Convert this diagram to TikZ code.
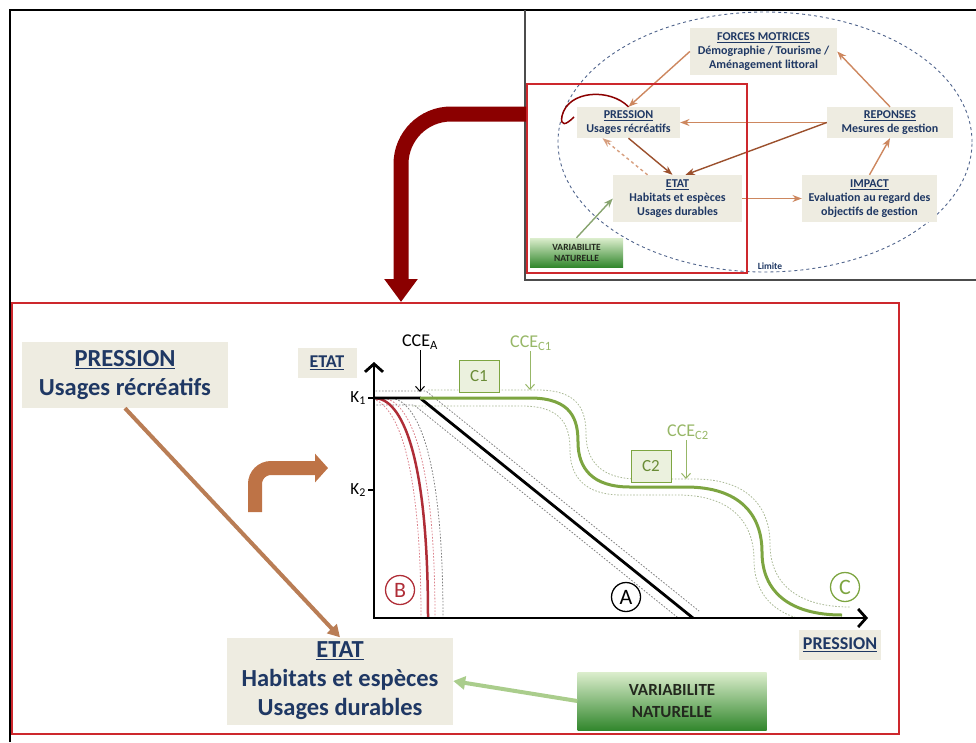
\documentclass[tikz,border=0pt]{standalone}
\usepackage{fontspec}
\setmainfont{Carlito}
\usetikzlibrary{arrows.meta}

\definecolor{navy}{RGB}{31,56,100}
\definecolor{boxfill}{RGB}{238,236,225}
\definecolor{framered}{RGB}{205,40,45}
\definecolor{arrowred}{RGB}{139,0,0}
\definecolor{bred}{RGB}{175,45,55}
\definecolor{bpink}{RGB}{220,130,140}
\definecolor{cgreen}{RGB}{125,165,65}
\definecolor{cfill}{RGB}{235,241,222}
\definecolor{cenv}{RGB}{170,185,150}
\definecolor{iorange}{RGB}{205,135,95}
\definecolor{ibrown}{RGB}{155,80,45}
\definecolor{vartop}{RGB}{220,238,205}
\definecolor{varbot}{RGB}{50,135,45}
\definecolor{vartext}{RGB}{35,40,30}
\definecolor{ellblue}{RGB}{80,100,140}
\definecolor{presarr}{RGB}{185,125,85}
\definecolor{vararr}{RGB}{170,205,140}
\definecolor{bentcol}{RGB}{190,115,70}

\begin{document}
\begin{tikzpicture}[
    x=1pt, y=-1pt,
    >=Stealth,
    lbl/.style={fill=boxfill, text=navy, align=center, inner sep=0pt},
    big/.style={lbl, font=\fontsize{24.5}{29}\selectfont\bfseries},
    axlbl/.style={lbl, font=\fontsize{18}{20}\selectfont\bfseries, minimum height=30pt},
    ibox/.style={lbl, font=\fontsize{12}{14}\selectfont\bfseries},
    varbox/.style={top color=vartop, bottom color=varbot, text=vartext, align=center, inner sep=0pt},
    iarr/.style={->, line width=1.4pt, draw=iorange},
    letter/.style={circle, draw, line width=1.3pt, minimum size=29pt, inner sep=0pt, font=\fontsize{22}{22}\selectfont},
    cbox/.style={draw=cgreen, fill=cfill, text=cgreen!85!black, line width=1pt, minimum width=40pt, minimum height=32pt, font=\fontsize{17}{17}\selectfont},
    cce/.style={font=\fontsize{18}{18}\selectfont, inner sep=1pt},
    pin/.style={-{Straight Barb[length=5pt,width=9pt]}, line width=1pt},
    axis/.style={line width=2.8pt, {Straight Barb[length=8pt,width=18pt]}-{Straight Barb[length=8pt,width=18pt]}},
    env/.style={line width=0.8pt, dash pattern=on 1.6pt off 1.6pt}
]
  \useasboundingbox (0,0) rectangle (976,742);

  % frames
  \draw[line width=2pt] (10,742) -- (10,10) -- (976,10);
  \draw[line width=1.5pt, draw=black!70] (525,10) -- (525,280) -- (976,280);
  \node[draw=framered, line width=2pt, minimum width=887pt, minimum height=431pt] (bot) at (455.5,518.5) {};

  % inset
  \draw[ellblue, line width=0.9pt, dashed] (765,142) ellipse [x radius=207pt, y radius=130pt];
  \node[fill=white, text=navy, font=\fontsize{9.5}{10}\selectfont\bfseries, inner sep=2pt] (lim) at (770,266) {Limite};

  \node[ibox, minimum width=147pt, minimum height=47pt] (fm) at (763.5,51.5) {\underline{FORCES MOTRICES}\\Démographie / Tourisme /\\Aménagement littoral};
  \node[ibox, minimum width=103pt, minimum height=31pt] (ip) at (628.5,122.5) {\underline{PRESSION}\\Usages récréatifs};
  \node[ibox, minimum width=126pt, minimum height=31pt] (ir) at (890,122.5) {\underline{REPONSES}\\Mesures de gestion};
  \node[ibox, minimum width=129pt, minimum height=47pt] (ie) at (677.5,198.5) {\underline{ETAT}\\Habitats et espèces\\Usages durables};
  \node[ibox, minimum width=135pt, minimum height=47pt] (ii) at (869.5,198.5) {\underline{IMPACT}\\Evaluation au regard des\\objectifs de gestion};
  \node[varbox, minimum width=93pt, minimum height=29pt, font=\fontsize{9.5}{11}\selectfont\bfseries] (iv) at (576.5,252.5) {VARIABILITE\\NATURELLE};

  \draw[iarr] (fm.west) -- (ip.north);
  \draw[iarr] (ir.north) -- (fm.east);
  \draw[iarr] (ir.west) -- (ip.east);
  \draw[iarr, draw=ibrown] (ir.west) -- ([xshift=8pt]ie.north);
  \draw[iarr, draw=ibrown] (ip.south) -- ([xshift=-5pt]ie.north);
  \draw[iarr, dashed, draw=iorange!80] ([xshift=-30pt]ie.north) -- ([xshift=-26pt]ip.south);
  \draw[iarr] (ie.east) -- (ii.west);
  \draw[iarr] (ii.north) -- (ir.south);
  \draw[iarr, draw=vararr!80!black] (iv.north) -- (ie.west);
  \draw[arrowred, line width=1.5pt] (ip.north) .. controls (610,88) and (568,90) .. (562,116) .. controls (560,127) and (566,125) .. (574,117);

  \node[draw=framered, line width=2pt, minimum width=220pt, minimum height=189pt] (zoom) at (637,178.5) {};

  % big arrow
  \draw[arrowred, line width=15pt, rounded corners=50pt, -{Triangle[length=23pt,width=32pt]}] ([yshift=-31pt]zoom.north west) -| ([xshift=-54.5pt]bot.north);

  % left boxes
  \node[big, minimum width=206pt, minimum height=66pt] (pres) at (125,375) {\underline{PRESSION}\\Usages récréatifs};
  \node[big, minimum width=226pt, minimum height=87pt] (etat) at (340,681) {\underline{ETAT}\\Habitats et espèces\\Usages durables};
  \node[varbox, minimum width=189pt, minimum height=58pt, font=\fontsize{17}{22}\selectfont\bfseries] (vari) at (672,701) {VARIABILITE\\NATURELLE};

  \draw[presarr, line width=4pt, -{Triangle[length=12pt,width=13pt]}] (pres.south) -- (etat.north);
  \draw[vararr, line width=4pt, -{Triangle[length=12pt,width=13pt]}] (vari.west) -- (etat.east);

  \coordinate (bent0) at (255,512);
  \coordinate (bent1) at (328,468);
  \draw[bentcol, line width=14pt, rounded corners=16pt, -{Triangle[length=13pt,width=28pt]}] (bent0) |- (bent1);

  % chart
  \coordinate (O) at (374,618);
  \coordinate (ytip) at (374,362);
  \coordinate (xtip) at (868,618);
  \coordinate (k1) at (374,398);
  \coordinate (k2) at (374,490);

  \begin{scope}
    \clip (374,370) rectangle (880,618);
    \foreach \dx/\c in {-7/bpink, 7/bpink, 15/gray}
      \draw[env, draw=\c, shift={(\dx,0)}] (374,398) .. controls (402,398) and (428,455) .. (428,618);
    \foreach \d in {-1,1}
      \draw[env, draw=gray, shift={({6*\d},{-7*\d})}] (360,398) -- (420,398) -- (693,618);
    \foreach \d in {-1,1}
      \draw[env, draw=cenv, shift={({8*\d},{-8*\d})}] (420,398) -- (530,398) .. controls (572,398) and (578,420) .. (578,442) .. controls (578,468) and (592,487) .. (630,487) -- (686,487) .. controls (740,487) and (762,515) .. (762,552) .. controls (762,592) and (790,615) .. (842,615);
  \end{scope}

  \draw[bred, line width=2.5pt] (374,398) .. controls (402,398) and (428,455) .. (428,618);
  \draw[line width=2.8pt] (374,398) -- (420,398) -- (693,618);
  \draw[cgreen, line width=3pt] (420,398) -- (530,398) .. controls (572,398) and (578,420) .. (578,442) .. controls (578,468) and (592,487) .. (630,487) -- (686,487) .. controls (740,487) and (762,515) .. (762,552) .. controls (762,592) and (790,615) .. (842,615);

  \draw[axis] (ytip) -- (O) -- (xtip);
  \draw[line width=2pt] (k1) -- ++(-6,0);
  \draw[line width=2pt] (k2) -- ++(-6,0);
  \node[anchor=east, font=\fontsize{17}{17}\selectfont, inner sep=1pt] (k1l) at (367,398) {K\textsubscript{1}};
  \node[anchor=east, font=\fontsize{17}{17}\selectfont, inner sep=1pt] (k2l) at (367,490) {K\textsubscript{2}};

  \node[axlbl, minimum width=59pt] (yl) at (327,363) {\underline{ETAT}};
  \node[axlbl, minimum width=82pt] (xl) at (840,645) {\underline{PRESSION}};

  \node[letter, draw=bred, text=bred] (B) at (400,590) {B};
  \node[letter] (A) at (626,597) {A};
  \node[letter, draw=cgreen, text=cgreen] (C) at (845,587) {C};
  \node[cbox] (c1) at (479,376.5) {C1};
  \node[cbox] (c2) at (651,466.5) {C2};

  \node[cce] (ccea) at (420,342) {CCE\textsubscript{A}};
  \node[cce, text=cgreen!80] (ccec1) at (531,343) {CCE\textsubscript{C1}};
  \node[cce, text=cgreen!80] (ccec2) at (688,432) {CCE\textsubscript{C2}};
  \coordinate (pa) at (420,392);
  \coordinate (pc1) at (530,390);
  \coordinate (pc2) at (686,479);
  \draw[pin] (ccea.south -| pa) -- (pa);
  \draw[pin, draw=cgreen!80] (ccec1.south -| pc1) -- (pc1);
  \draw[pin, draw=cgreen!80] (ccec2.south -| pc2) -- (pc2);
\end{tikzpicture}
\end{document}
